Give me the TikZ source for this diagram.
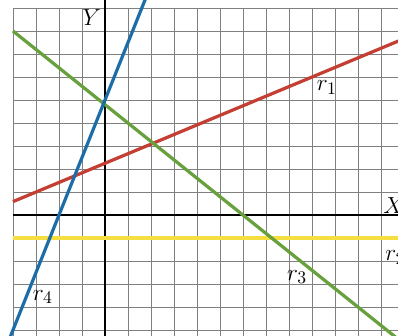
\documentclass[tikz,border=0pt]{standalone}
\begin{document}
\begin{tikzpicture}[x=0.5cm,y=0.5cm,
  gridline/.style={draw=black!50, line width=0.5pt},
  axisline/.style={draw=black, line width=0.9pt},
  rline/.style={line width=2pt},
  lbl/.style={inner sep=0pt, font=\fontsize{15}{18}\selectfont}]
\definecolor{rred}{RGB}{196,62,52}
\definecolor{rgreen}{RGB}{104,160,62}
\definecolor{rblue}{RGB}{28,108,168}
\definecolor{ryellow}{RGB}{246,222,64}
\useasboundingbox (-4.565,-5.22) rectangle (12.74,9.35);
\fill[white] (-4.565,-5.22) rectangle (12.74,9.35);
\clip (-4.565,-5.22) rectangle (12.74,9.35);
% grid
\foreach \x in {-4,...,12} \draw[gridline] (\x,-5.3) -- (\x,9);
\foreach \y in {-5,...,9} \draw[gridline] (-4,\y) -- (12.8,\y);
% coordinates
\coordinate (xl) at (-4,0);
\coordinate (xr) at (12.8,0);
\coordinate (yb) at (0,-5.3);
\coordinate (yt) at (0,9.4);
\coordinate (r1a) at (-4,0.583);
\coordinate (r1b) at (12.8,7.583);
\coordinate (r2a) at (-4,-1);
\coordinate (r2b) at (12.8,-1);
\coordinate (r3a) at (-4,8);
\coordinate (r3b) at (12.8,-5.44);
\coordinate (r4a) at (-4.12,-5.3);
\coordinate (r4b) at (1.76,9.4);
% axes
\draw[axisline] (xl) -- (xr);
\draw[axisline] (yb) -- (yt);
% lines
\draw[rline, ryellow] (r2a) -- (r2b);
\draw[rline, rred] (r1a) -- (r1b);
\draw[rline, rgreen] (r3a) -- (r3b);
\draw[rline, rblue] (r4a) -- (r4b);
% labels
\node[lbl] (ly) at (-0.57,8.6) {$Y$};
\node[lbl] (lx) at (12.55,0.43) {$X$};
\node[lbl] (l1) at (9.65,5.55) {$r_1$};
\node[lbl] (l2) at (12.62,-1.85) {$r_2$};
\node[lbl] (l3) at (8.35,-2.7) {$r_3$};
\node[lbl] (l4) at (-2.7,-3.57) {$r_4$};
\end{tikzpicture}
\end{document}
